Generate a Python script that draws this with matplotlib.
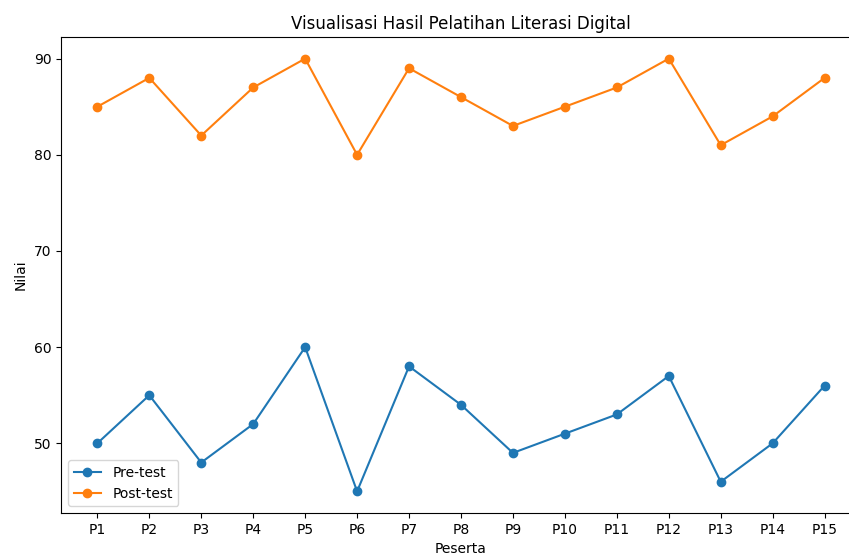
import matplotlib
matplotlib.use("Agg")
import matplotlib.pyplot as plt

peserta = [f"P{i}" for i in range(1, 16)]
pre_test = [50, 55, 48, 52, 60, 45, 58, 54, 49, 51, 53, 57, 46, 50, 56]
post_test = [85, 88, 82, 87, 90, 80, 89, 86, 83, 85, 87, 90, 81, 84, 88]

W, H = 849, 556
fig = plt.figure(figsize=(W / 100, H / 100), dpi=100)
left, right, top, bottom = 61, 861, 37, 513
ax = fig.add_axes([left / W, 1 - bottom / H, (right - left) / W, (bottom - top) / H])

ax.plot(peserta, pre_test, marker="o", label="Pre-test")
ax.plot(peserta, post_test, marker="o", label="Post-test")
ax.set_title("Visualisasi Hasil Pelatihan Literasi Digital")
ax.set_xlabel("Peserta")
ax.set_ylabel("Nilai")
ax.legend(loc="lower left")

fig.savefig("out.png", dpi=100)
